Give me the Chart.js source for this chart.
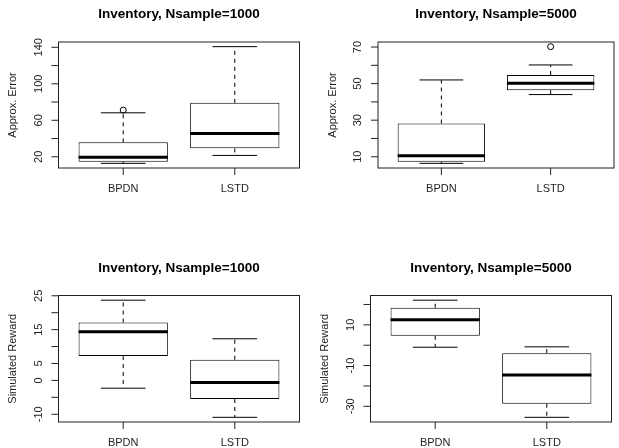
<!DOCTYPE html>
<html>
<head>
<meta charset="utf-8">
<script src="https://cdn.jsdelivr.net/npm/chart.js@4.4.1/dist/chart.umd.min.js"></script>
<style>
    html, body { margin: 0; padding: 0; background: #fff; }
    #page { position: relative; width: 619px; height: 448px; overflow: hidden; background: #fff; }
    .panel { position: absolute; width: 310px; height: 224px; }
    .panel canvas { display: block; }
</style>
</head>
<body>
<div id="page">
    <div class="panel" style="left:0;top:0"><canvas id="error1000" width="310" height="224"></canvas></div>
    <div class="panel" style="left:309px;top:0"><canvas id="error5000" width="310" height="224"></canvas></div>
    <div class="panel" style="left:0;top:224px"><canvas id="reward1000" width="310" height="224"></canvas></div>
    <div class="panel" style="left:309px;top:224px"><canvas id="reward5000" width="310" height="224"></canvas></div>
</div>
<script>
const methods = ["BPDN", "LSTD"];
const methodPositions = [1, 2];

// per method: lower whisker, Q1, median, Q3, upper whisker
const error1000Stats = [[12.8, 14.5, 19.4, 35.8, 68.2], [21.5, 29.2, 45.6, 79.1, 140.7]];
const error1000Outliers = [[71.2], []];
const error1000Ticks = [20, 40, 60, 80, 100, 120, 140];
const error1000Labels = [20, 60, 100, 140];

const error5000Stats = [[6.4, 7.3, 10.5, 28.2, 52.0], [44.0, 46.4, 50.2, 54.7, 60.2]];
const error5000Outliers = [[], [70.2]];
const error5000Ticks = [10, 20, 30, 40, 50, 60, 70];
const error5000Labels = [10, 30, 50, 70];

const reward1000Stats = [[-2.3, 7.2, 14.4, 17.1, 23.7], [-10.9, -5.5, -0.6, 6.1, 12.3]];
const reward1000Outliers = [[], []];
const reward1000Ticks = [-10, -5, 0, 5, 10, 15, 20, 25];
const reward1000Labels = [-10, 0, 5, 15, 25];

const reward5000Stats = [[-1.0, 4.6, 12.5, 18.4, 22.1], [-35.4, -28.7, -14.6, -3.9, -0.8]];
const reward5000Outliers = [[], []];
const reward5000Ticks = [-30, -20, -10, 0, 10, 20];
const reward5000Labels = [-30, -10, 10];

const FONT = '"Liberation Sans", Arial, sans-serif';
const INK = "#1e1e1e";

function line(ctx, x1, y1, x2, y2) {
    ctx.beginPath();
    ctx.moveTo(x1, y1);
    ctx.lineTo(x2, y2);
    ctx.stroke();
}

const rStylePlugin = {
    id: "rStyle",
    beforeDatasetsDraw(chart, args, opts) {
        const { ctx } = chart;
        const x = chart.scales.x;
        const y = chart.scales.y;
        ctx.save();
        ctx.strokeStyle = "#000";
        ctx.lineWidth = 1;
        opts.stats.forEach((s, i) => {
            const cx = x.getPixelForValue(methodPositions[i]);
            // dashed whiskers
            ctx.setLineDash([4, 4]);
            line(ctx, cx, y.getPixelForValue(s[3]), cx, y.getPixelForValue(s[4]));
            line(ctx, cx, y.getPixelForValue(s[1]), cx, y.getPixelForValue(s[0]));
            // staples
            ctx.setLineDash([]);
            const xl = x.getPixelForValue(methodPositions[i] - 0.2);
            const xr = x.getPixelForValue(methodPositions[i] + 0.2);
            line(ctx, xl, y.getPixelForValue(s[4]), xr, y.getPixelForValue(s[4]));
            line(ctx, xl, y.getPixelForValue(s[0]), xr, y.getPixelForValue(s[0]));
        });
        ctx.restore();
    },
    afterDatasetsDraw(chart, args, opts) {
        const { ctx, chartArea: area } = chart;
        const x = chart.scales.x;
        const y = chart.scales.y;
        ctx.save();

        // medians
        ctx.strokeStyle = "#000";
        ctx.lineWidth = 3;
        ctx.lineCap = "butt";
        opts.stats.forEach((s, i) => {
            const ym = y.getPixelForValue(s[2]);
            line(ctx, x.getPixelForValue(methodPositions[i] - 0.4), ym, x.getPixelForValue(methodPositions[i] + 0.4), ym);
        });

        // frame
        ctx.lineWidth = 1;
        ctx.strokeStyle = "#222";
        ctx.strokeRect(area.left, area.top, area.right - area.left, area.bottom - area.top);

        // y axis ticks and labels
        ctx.fillStyle = INK;
        ctx.font = `11px ${FONT}`;
        ctx.textAlign = "center";
        ctx.textBaseline = "middle";
        opts.ticks.forEach((v) => {
            const py = y.getPixelForValue(v);
            line(ctx, area.left, py, area.left - 7, py);
            if (opts.labels.includes(v)) {
                ctx.save();
                ctx.translate(area.left - 20, py);
                ctx.rotate(-Math.PI / 2);
                ctx.fillText(String(v), 0, 0);
                ctx.restore();
            }
        });

        // x axis ticks and labels
        methods.forEach((name, i) => {
            const px = x.getPixelForValue(methodPositions[i]);
            line(ctx, px, area.bottom, px, area.bottom + 7);
            ctx.fillText(name, px, area.bottom + 21);
        });

        // y axis title
        ctx.save();
        ctx.translate(area.left - 45.5, (area.top + area.bottom) / 2);
        ctx.rotate(-Math.PI / 2);
        ctx.fillText(opts.yTitle, 0, 0);
        ctx.restore();

        // main title
        ctx.font = `bold 13.5px ${FONT}`;
        ctx.fillStyle = "#000";
        ctx.fillText(opts.title, (area.left + area.right) / 2, area.top - 27.5);

        ctx.restore();
    }
};

function renderBoxplot(id, config) {
    const canvas = document.getElementById(id);
    if (!canvas) return;

    const all = config.stats.flat().concat(config.outliers.flat());
    const lo = Math.min(...all);
    const hi = Math.max(...all);
    const pad = (hi - lo) * 0.04;

    new Chart(canvas, {
        type: "bar",
        data: {
            datasets: [
                {
                    type: "scatter",
                    data: config.outliers.flatMap((vals, i) => vals.map((v) => ({ x: methodPositions[i], y: v }))),
                    pointStyle: "circle",
                    pointRadius: 3,
                    borderColor: "#000",
                    borderWidth: 1,
                    backgroundColor: "rgba(0,0,0,0)"
                },
                {
                    type: "bar",
                    data: config.stats.map((s, i) => ({ x: methodPositions[i], y: [s[1], s[3]] })),
                    backgroundColor: "#fff",
                    borderColor: "#000",
                    borderWidth: 1,
                    borderSkipped: false,
                    categoryPercentage: 0.8,
                    barPercentage: 1
                }
            ]
        },
        options: {
            responsive: false,
            animation: false,
            events: [],
            layout: { padding: config.padding },
            plugins: {
                legend: { display: false },
                tooltip: { enabled: false },
                rStyle: {
                    title: config.title,
                    yTitle: config.yTitle,
                    stats: config.stats,
                    ticks: config.ticks,
                    labels: config.labels
                }
            },
            scales: {
                x: {
                    type: "linear",
                    display: false,
                    offset: false,
                    grid: { offset: false },
                    min: 0.42,
                    max: 2.58,
                    afterBuildTicks: (scale) => {
                        scale.ticks = methodPositions.map((v) => ({ value: v }));
                    }
                },
                y: {
                    type: "linear",
                    display: false,
                    min: lo - pad,
                    max: hi + pad
                }
            }
        },
        plugins: [rStylePlugin]
    });
}

renderBoxplot("error1000", {
    title: "Inventory, Nsample=1000",
    yTitle: "Approx. Error",
    stats: error1000Stats,
    outliers: error1000Outliers,
    ticks: error1000Ticks,
    labels: error1000Labels,
    padding: { left: 58.5, right: 10.5, top: 42, bottom: 56 }
});

renderBoxplot("error5000", {
    title: "Inventory, Nsample=5000",
    yTitle: "Approx. Error",
    stats: error5000Stats,
    outliers: error5000Outliers,
    ticks: error5000Ticks,
    labels: error5000Labels,
    padding: { left: 69, right: 1.5, top: 42, bottom: 56 }
});

renderBoxplot("reward1000", {
    title: "Inventory, Nsample=1000",
    yTitle: "Simulated Reward",
    stats: reward1000Stats,
    outliers: reward1000Outliers,
    ticks: reward1000Ticks,
    labels: reward1000Labels,
    padding: { left: 58.5, right: 10.5, top: 71.5, bottom: 26 }
});

renderBoxplot("reward5000", {
    title: "Inventory, Nsample=5000",
    yTitle: "Simulated Reward",
    stats: reward5000Stats,
    outliers: reward5000Outliers,
    ticks: reward5000Ticks,
    labels: reward5000Labels,
    padding: { left: 61.5, right: 7.5, top: 71.5, bottom: 26 }
});
</script>
</body>
</html>
